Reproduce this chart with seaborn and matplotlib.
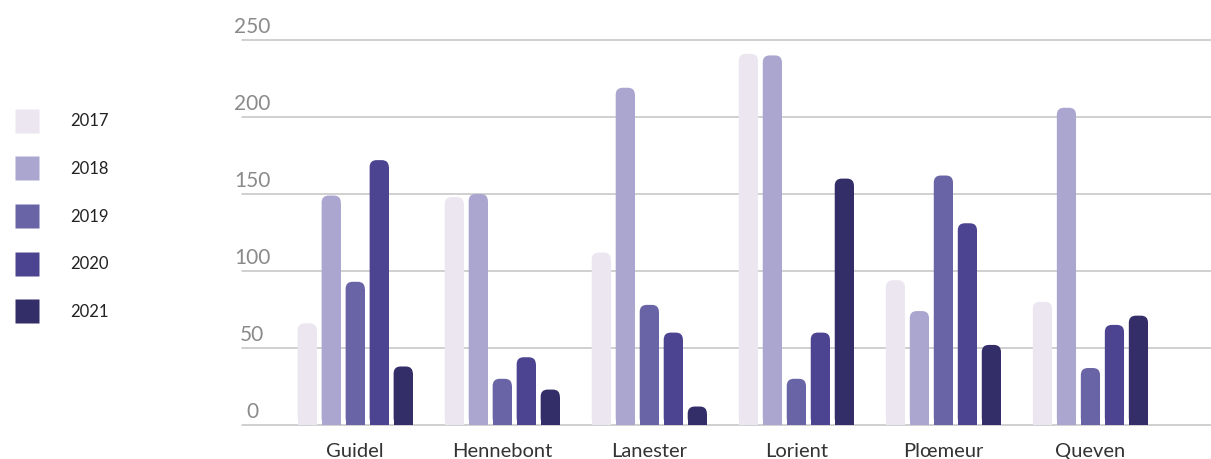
import matplotlib
matplotlib.use("Agg")
import matplotlib.pyplot as plt
from matplotlib.patches import FancyBboxPatch
from matplotlib.lines import Line2D
import seaborn as sns
import pandas as pd

communes = ["Guidel", "Hennebont", "Lanester", "Lorient", "Plœmeur", "Queven"]
years = ["2017", "2018", "2019", "2020", "2021"]
v2017 = [66, 148, 112, 241, 94, 80]
v2018 = [149, 150, 219, 240, 74, 206]
v2019 = [93, 30, 78, 30, 162, 37]
v2020 = [172, 44, 60, 60, 131, 65]
v2021 = [38, 23, 12, 160, 52, 71]
colors = ["#ebe6f0", "#aba6cf", "#6964a5", "#4c4491", "#332d68"]
yticks = [0, 50, 100, 150, 200, 250]

rows = []
for year, vals in zip(years, [v2017, v2018, v2019, v2020, v2021]):
    for c, v in zip(communes, vals):
        rows.append({"commune": c, "year": year, "value": v})
df = pd.DataFrame(rows)

sns.set_style("white")
plt.rcParams["font.family"] = ["Lato", "DejaVu Sans"]

fig = plt.figure(figsize=(12.11, 4.59), dpi=100)
ax = fig.add_axes([242 / 1211, 34 / 459, 969 / 1211, 385 / 459])

sns.barplot(data=df, x="commune", y="value", hue="year", order=communes,
            hue_order=years, palette=colors, width=0.816, gap=0.2,
            legend=False, ax=ax, saturation=1)

ax.set_xlim(-0.77, 5.82)
ax.set_ylim(0, 250)
fig.canvas.draw()

# rounded tops: radius given in pixels, converted to data units
bbox = ax.get_window_extent()
x_per_px = (5.82 + 0.77) / bbox.width
y_per_px = 250 / bbox.height
r_px = 7
aspect = y_per_px / x_per_px
for p in list(ax.patches):
    x, w, h = p.get_x(), p.get_width(), p.get_height()
    fc = p.get_facecolor()
    r = r_px * y_per_px
    cap = FancyBboxPatch((x, 0), w, h,
                         boxstyle=f"round,pad=0,rounding_size={r_px * x_per_px}",
                         mutation_aspect=aspect, facecolor=fc, edgecolor="none",
                         zorder=2)
    ax.add_patch(cap)
    p.set_height(max(h - r, 0))
    p.set_zorder(3)
    p.set_edgecolor("none")

for t in yticks:
    ax.axhline(t, color="#c4c4c4", lw=1.1, zorder=1, clip_on=False)
    ax.text(0.0103, t + 4.5, str(t), transform=ax.get_yaxis_transform(),
            ha="center", va="baseline", fontsize=15, color="#8a8a8a")

ax.set_yticks([])
ax.set_xlabel("")
ax.set_ylabel("")
ax.tick_params(axis="x", length=0, pad=13, labelsize=14.5, labelcolor="#333333")
for s in ax.spines.values():
    s.set_visible(False)

handles = [Line2D([], [], marker="s", linestyle="none", markersize=17,
                  markerfacecolor=c, markeredgecolor="none") for c in colors]
fig.legend(handles, years, loc="upper left", bbox_to_anchor=(-0.0025, 0.782),
           frameon=False, prop={"family": ["Lato", "DejaVu Sans"], "size": 12},
           labelspacing=1.9, handletextpad=1.6, borderpad=0.3,
           labelcolor="#222222")

fig.savefig("out.png", dpi=100)
